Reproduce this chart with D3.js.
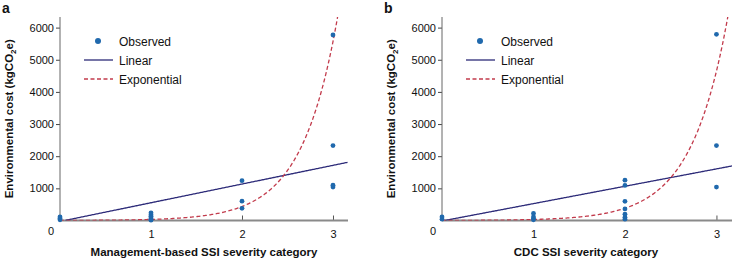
<!DOCTYPE html>
<html><head><meta charset="utf-8">
<script src="https://cdn.jsdelivr.net/npm/d3@7"></script>
<style>
body{margin:0;background:#fff;}
svg{display:block;font-family:"Liberation Sans",Arial,sans-serif;}
</style></head>
<body>
<svg id="chart" width="732" height="259"></svg>
<script>
// ---- data ----
const panelLetters = ["a", "b"];
const xTitles = ["Management-based SSI severity category", "CDC SSI severity category"];
const yTitleParts = ["Environmental cost (kgCO", "2", "e)"];
const xTicks = [1, 2, 3];
const yTicks = [1000, 2000, 3000, 4000, 5000, 6000];
const legendLabels = ["Observed", "Linear", "Exponential"];

// observed points [category, cost]
const observedA = [[0,20],[0,60],[0,110],
  [1,10],[1,40],[1,80],[1,130],[1,180],[1,240],
  [2,380],[2,600],[2,1240],
  [3,1040],[3,1100],[3,2330],[3,5770]];
const observedB = [[0,40],[0,110],
  [1,20],[1,60],[1,110],[1,220],
  [2,40],[2,100],[2,195],[2,360],[2,598],[2,1090],[2,1255],
  [3,1040],[3,2330],[3,5790]];

// fitted models: linear [intercept, slope], exponential [a, b] (y = a*e^(b*x))
const linearFitA = [-30, 582];
const linearFitB = [-15, 540];
const expFitA = [2.65, 2.55];
const expFitB = [2.57, 2.5];

const panels = [
  {obs: observedA, lin: linearFitA, exp: expFitA, x0: 60, x1: 348, xmax: 3.165},
  {obs: observedB, lin: linearFitB, exp: expFitB, x0: 442, x1: 732, xmax: 3.17}
];

const svg = d3.select("#chart");
const yTop = 17, yBottom = 220.5;
const yMax = 6330;
const colPoint = "#2069ad", colLin = "#2c2a78", colExp = "#c23b4c", colAxis = "#8a8a8a";

panels.forEach((p, i) => {
  const x = d3.scaleLinear().domain([0, p.xmax]).range([p.x0, p.x1]);
  const y = d3.scaleLinear().domain([0, yMax]).range([yBottom, yTop]);
  const g = svg.append("g");

  const clipId = "clip" + i;
  g.append("clipPath").attr("id", clipId).append("rect")
    .attr("x", p.x0).attr("y", yTop).attr("width", p.x1 - p.x0).attr("height", yBottom - yTop);

  // y axis
  const ya = g.append("g").attr("transform", `translate(${p.x0},0)`)
    .call(d3.axisLeft(y).tickValues(yTicks).tickSize(4).tickPadding(2).tickFormat(d3.format("d")));
  ya.select(".domain").remove();
  ya.selectAll("line").attr("stroke", "#444");
  ya.selectAll("text").attr("font-size", 11).attr("fill", "#111");
  g.append("line").attr("x1", p.x0).attr("x2", p.x0).attr("y1", yTop).attr("y2", yBottom)
    .attr("stroke", "#666").attr("stroke-width", 1);

  // x axis
  const xa = g.append("g").attr("transform", `translate(0,${yBottom})`)
    .call(d3.axisBottom(x).tickValues(xTicks).tickSize(-5).tickPadding(10).tickFormat(d3.format("d")));
  xa.select(".domain").remove();
  xa.selectAll("line").attr("stroke", "#555");
  xa.selectAll("text").attr("font-size", 11).attr("fill", "#111");
  g.append("text").attr("x", p.x0 - 9).attr("y", 235).attr("text-anchor", "middle")
    .attr("font-size", 11).attr("fill", "#111").text("0");
  g.append("line").attr("x1", p.x0).attr("x2", p.x1).attr("y1", yBottom).attr("y2", yBottom)
    .attr("stroke", colAxis).attr("stroke-width", 2);

  // linear fit
  const samples = d3.range(0, p.xmax + 0.0001, 0.01);
  const linLine = d3.line().x(d => x(d)).y(d => y(Math.max(0, p.lin[0] + p.lin[1] * d)));
  g.append("path").datum(samples.filter(d => p.lin[0] + p.lin[1] * d >= 0))
    .attr("d", linLine).attr("fill", "none").attr("stroke", colLin).attr("stroke-width", 1.3)
    .attr("clip-path", `url(#${clipId})`);

  // exponential fit
  const expLine = d3.line().x(d => x(d)).y(d => y(p.exp[0] * Math.exp(p.exp[1] * d)));
  g.append("path").datum(samples.filter(d => p.exp[0] * Math.exp(p.exp[1] * d) < yMax * 1.05))
    .attr("d", expLine).attr("fill", "none").attr("stroke", colExp).attr("stroke-width", 1.3)
    .attr("stroke-dasharray", "4,2.5").attr("clip-path", `url(#${clipId})`);

  // observed points
  g.selectAll("circle.obs").data(p.obs).enter().append("circle").attr("class", "obs")
    .attr("cx", d => x(d[0])).attr("cy", d => y(d[1])).attr("r", 2.4).attr("fill", colPoint);

  // legend
  const lx = p.x0 + 24, ty = [41, 60, 79];
  g.append("circle").attr("cx", lx + 14).attr("cy", ty[0]).attr("r", 3).attr("fill", colPoint);
  g.append("line").attr("x1", lx).attr("x2", lx + 29).attr("y1", ty[1]).attr("y2", ty[1])
    .attr("stroke", colLin).attr("stroke-width", 1.3);
  g.append("line").attr("x1", lx).attr("x2", lx + 29).attr("y1", ty[2]).attr("y2", ty[2])
    .attr("stroke", colExp).attr("stroke-width", 1.3).attr("stroke-dasharray", "4,2.5");
  legendLabels.forEach((t, k) => {
    g.append("text").attr("x", lx + 35).attr("y", ty[k] + 4.5).attr("font-size", 12)
      .attr("fill", "#111").text(t);
  });

  // titles
  g.append("text").attr("x", (p.x0 + Math.min(p.x1, p.x0 + 288)) / 2).attr("y", 256)
    .attr("text-anchor", "middle").attr("font-size", 11.5).attr("font-weight", "bold")
    .attr("fill", "#111").text(xTitles[i]);
  const yt = g.append("text").attr("transform", `translate(${p.x0 - 47},${(yTop + yBottom) / 2}) rotate(-90)`)
    .attr("text-anchor", "middle").attr("font-size", 11.5).attr("font-weight", "bold")
    .attr("fill", "#111");
  yt.append("tspan").text(yTitleParts[0]);
  yt.append("tspan").attr("font-size", 8).attr("dy", 3).text(yTitleParts[1]);
  yt.append("tspan").attr("dy", -3).text(yTitleParts[2]);
  g.append("text").attr("x", p.x0 - 58).attr("y", 13).attr("font-size", 14).attr("font-weight", "bold")
    .attr("fill", "#111").text(panelLetters[i]);
});
</script>
</body></html>
